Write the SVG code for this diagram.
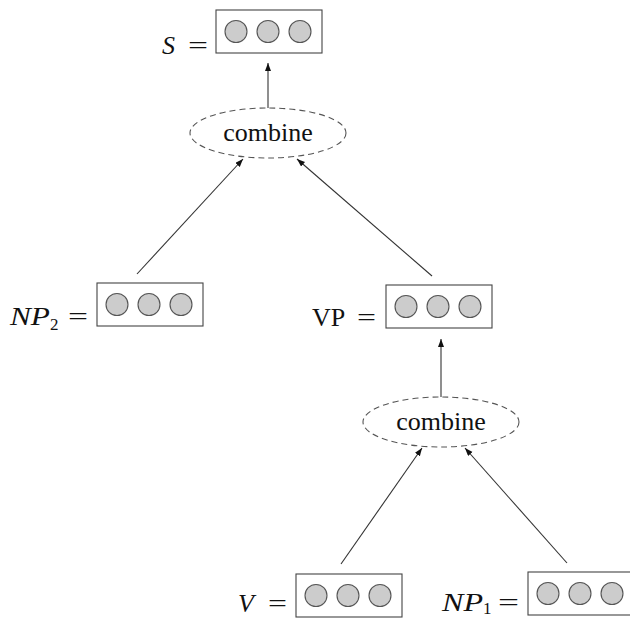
<svg xmlns="http://www.w3.org/2000/svg" width="630" height="618" viewBox="0 0 630 618">
<style>
.box{fill:#fff;stroke:#444;stroke-width:1.1}
.cell{fill:#cccccc;stroke:#555;stroke-width:1.1}
.op{fill:#fff;stroke:#555;stroke-width:1.1;stroke-dasharray:6 4}
.lbl{font-family:"Liberation Serif","DejaVu Serif",serif;font-size:26px;fill:#111}
.it{font-style:italic}
.sub{font-size:17px}
.conn{stroke:#333;stroke-width:1.1;fill:none;marker-end:url(#ah)}
</style>
<defs>
<marker id="ah" markerUnits="userSpaceOnUse" markerWidth="9" markerHeight="7" refX="8" refY="3" orient="auto">
<path d="M0,0 L8,3 L0,6 z" fill="#111"/>
</marker>
<g id="vec">
<rect class="box" x="0" y="0" width="106" height="43"/>
<circle class="cell" cx="20" cy="21.5" r="11"/>
<circle class="cell" cx="52" cy="21.5" r="11"/>
<circle class="cell" cx="84" cy="21.5" r="11"/>
</g>
</defs>
<g id="connectors">
<line class="conn" x1="137" y1="274" x2="243" y2="159"/>
<line class="conn" x1="432" y1="276" x2="297" y2="159"/>
<line class="conn" x1="268" y1="108" x2="268" y2="63"/>
<line class="conn" x1="441" y1="397" x2="441" y2="339"/>
<line class="conn" x1="341" y1="564" x2="422" y2="448"/>
<line class="conn" x1="567" y1="563" x2="465" y2="448"/>
</g>
<g id="S">
<use href="#vec" x="216" y="10"/>
<text class="lbl" y="54"><tspan class="it" x="162">S</tspan><tspan x="188" textLength="20" lengthAdjust="spacingAndGlyphs">=</tspan></text>
</g>
<g id="combine1">
<ellipse class="op" cx="268" cy="133" rx="78" ry="25"/>
<text class="lbl" x="268" y="141" text-anchor="middle">combine</text>
</g>
<g id="NP2">
<use href="#vec" x="97" y="283"/>
<text class="lbl" y="325"><tspan class="it" x="10" textLength="40" lengthAdjust="spacingAndGlyphs">NP</tspan><tspan class="sub" x="50" dy="5">2</tspan><tspan x="68" dy="-5" textLength="20" lengthAdjust="spacingAndGlyphs">=</tspan></text>
</g>
<g id="VP">
<use href="#vec" x="386" y="285"/>
<text class="lbl" y="326"><tspan x="312">VP</tspan><tspan x="357" textLength="19" lengthAdjust="spacingAndGlyphs">=</tspan></text>
</g>
<g id="combine2">
<ellipse class="op" cx="441" cy="422" rx="78" ry="25"/>
<text class="lbl" x="441" y="430" text-anchor="middle">combine</text>
</g>
<g id="V">
<use href="#vec" x="296" y="574"/>
<text class="lbl" y="612"><tspan class="it" x="238">V</tspan><tspan x="268" textLength="19" lengthAdjust="spacingAndGlyphs">=</tspan></text>
</g>
<g id="NP1">
<use href="#vec" x="528" y="572"/>
<text class="lbl" y="611"><tspan class="it" x="442" textLength="41" lengthAdjust="spacingAndGlyphs">NP</tspan><tspan class="sub" x="483" dy="3">1</tspan><tspan x="498" dy="-3" textLength="21" lengthAdjust="spacingAndGlyphs">=</tspan></text>
</g>
</svg>
